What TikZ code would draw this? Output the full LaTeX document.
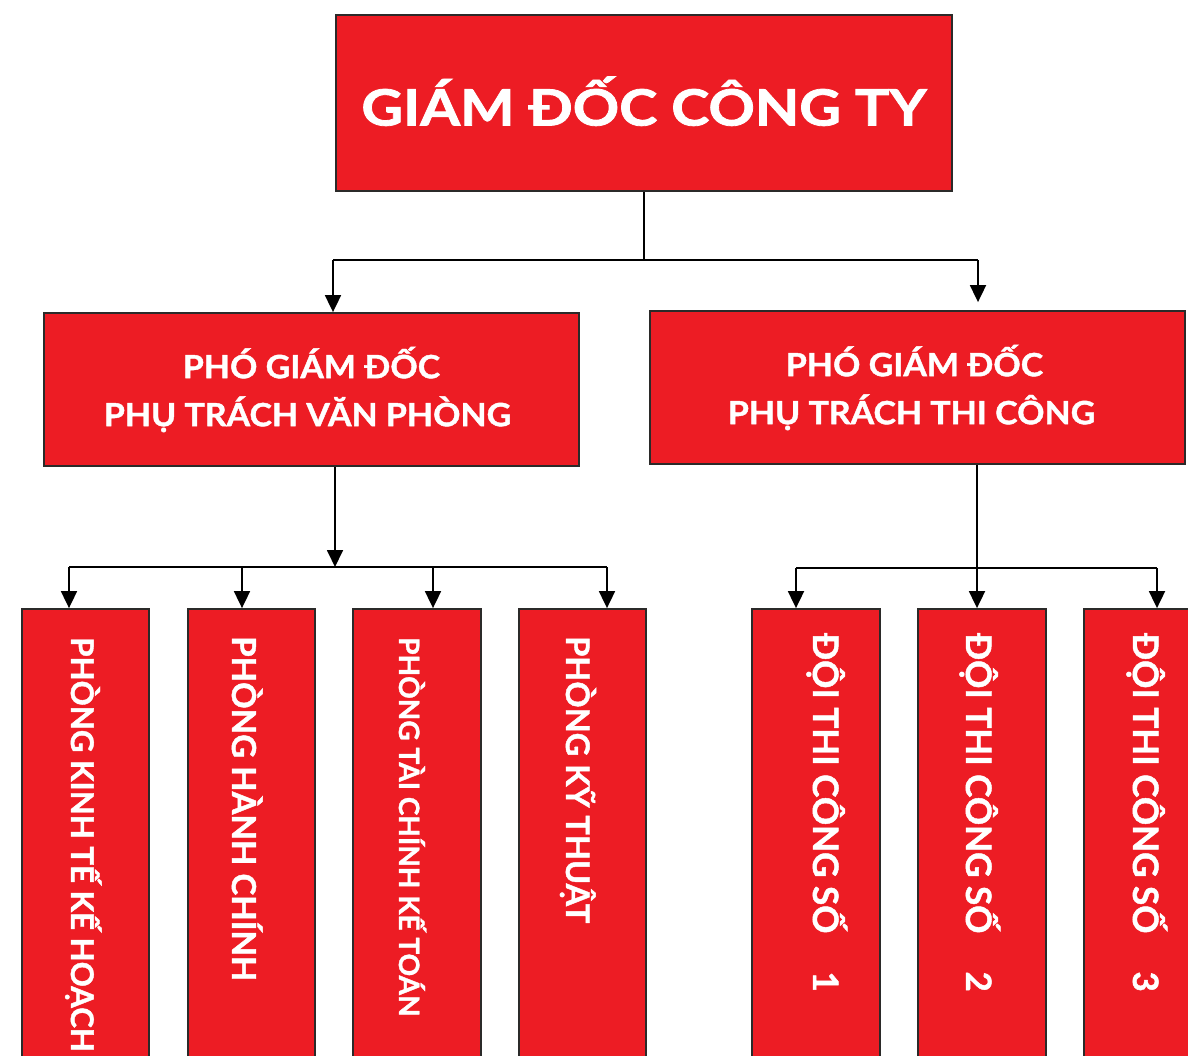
\documentclass[tikz,border=0pt]{standalone}
\usepackage{fontspec}
\setmainfont{Lato}[BoldFeatures={FakeBold=1.3}]
\newfontfamily\titlefont{Lato}[FakeStretch=1.15, BoldFeatures={FakeBold=1.6}]
\newfontfamily\midfont{Lato}[FakeStretch=1.06, BoldFeatures={FakeBold=1.3}]
\usetikzlibrary{arrows.meta}
\definecolor{boxred}{HTML}{ED1C24}
\definecolor{edgegray}{HTML}{2B2A29}
\begin{document}
\begin{tikzpicture}[x=1pt,y=-1pt,
  box/.style={draw=edgegray, line width=1.8pt, fill=boxred, rectangle, inner sep=0pt, text=white},
  vbox/.style={box, minimum height=500pt},
  vtext/.style={text=white, rotate=-90, anchor=base west, inner sep=0pt},
  conn/.style={line width=1.8pt, draw=black},
  arr/.style={conn, -{Triangle[width=16pt,length=17pt]}}]
\clip (0,0) rectangle (1188,1055);
\fill[white] (0,0) rectangle (1188,1055);

% boxes
\node[box, minimum width=616pt, minimum height=176pt,
      font=\titlefont\bfseries\fontsize{50}{50}\selectfont] (top) at (644,103) {\raisebox{4pt}{GIÁM ĐỐC CÔNG TY}};
\node[box, minimum width=535pt, minimum height=153pt, align=center,
      font=\midfont\bfseries\fontsize{32}{48}\selectfont] (vpL) at (311.5,389.5) {PHÓ GIÁM ĐỐC\\PHỤ TRÁCH VĂN PHÒNG\hspace*{8pt}};
\node[box, minimum width=535pt, minimum height=153pt, align=center,
      font=\midfont\bfseries\fontsize{32}{48}\selectfont] (vpR) at (917.5,387.5) {PHÓ GIÁM ĐỐC\hspace*{6pt}\\PHỤ TRÁCH THI CÔNG\hspace*{12pt}};

\node[vbox, minimum width=127pt] (b1) at (85.5,859) {};
\node[vbox, minimum width=127pt] (b2) at (251.5,859) {};
\node[vbox, minimum width=128pt] (b3) at (417,859) {};
\node[vbox, minimum width=127pt] (b4) at (582.5,859) {};
\node[vbox, minimum width=128pt] (r1) at (816,859) {};
\node[vbox, minimum width=128pt] (r2) at (982,859) {};
\node[vbox, minimum width=128pt] (r3) at (1148,859) {};

% vertical texts
\node[vtext, font=\bfseries\fontsize{31.2}{31.2}\selectfont] (t1) at (71,637) {PHÒNG KINH TẾ KẾ HOẠCH};
\node[vtext, font=\bfseries\fontsize{33}{33}\selectfont] (t2) at (232,636) {PHÒNG HÀNH CHÍNH};
\node[vtext, font=\bfseries\fontsize{28}{28}\selectfont] (t3) at (399,637) {PHÒNG TÀI CHÍNH KẾ TOÁN};
\node[vtext, font=\bfseries\fontsize{32.5}{32.5}\selectfont] (t4) at (566,636) {PHÒNG KỸ THUẬT};
\node[vtext, font=\bfseries\fontsize{35}{35}\selectfont] (u1) at (813,633) {ĐỘI THI CÔNG SỐ\hspace{38pt}1};
\node[vtext, font=\bfseries\fontsize{35}{35}\selectfont] (u2) at (966,633) {ĐỘI THI CÔNG SỐ\hspace{38pt}2};
\node[vtext, font=\bfseries\fontsize{35}{35}\selectfont] (u3) at (1133,633) {ĐỘI THI CÔNG SỐ\hspace{38pt}3};

% level 1 connectors
\coordinate (j0) at (644,260);
\coordinate (aL) at (333,260);
\coordinate (aR) at (978,260);
\draw[conn] (top.south) -- (j0);
\draw[conn] (aL) -- (aR);
\draw[arr] (aL) -- (aL |- vpL.north);
\draw[arr, shorten >=8pt] (aR) -- (aR |- vpR.north);

% left branch
\coordinate (sL) at (335,567);
\coordinate (h1) at (69,567);
\coordinate (h2) at (242,567);
\coordinate (h3) at (433,567);
\coordinate (h4) at (607,567);
\draw[arr] (sL |- vpL.south) -- (sL);
\draw[conn] (h1) -- (h4);
\draw[arr] (h1) -- (h1 |- b1.north);
\draw[arr] (h2) -- (h2 |- b2.north);
\draw[arr] (h3) -- (h3 |- b3.north);
\draw[arr] (h4) -- (h4 |- b4.north);

% right branch
\coordinate (sR) at (977,568);
\coordinate (g1) at (796,568);
\coordinate (g3) at (1157,568);
\draw[conn] (sR |- vpR.south) -- (sR);
\draw[conn] (g1) -- (g3);
\draw[arr] (g1) -- (g1 |- r1.north);
\draw[arr] (sR) -- (sR |- r2.north);
\draw[arr] (g3) -- (g3 |- r3.north);
\end{tikzpicture}
\end{document}
